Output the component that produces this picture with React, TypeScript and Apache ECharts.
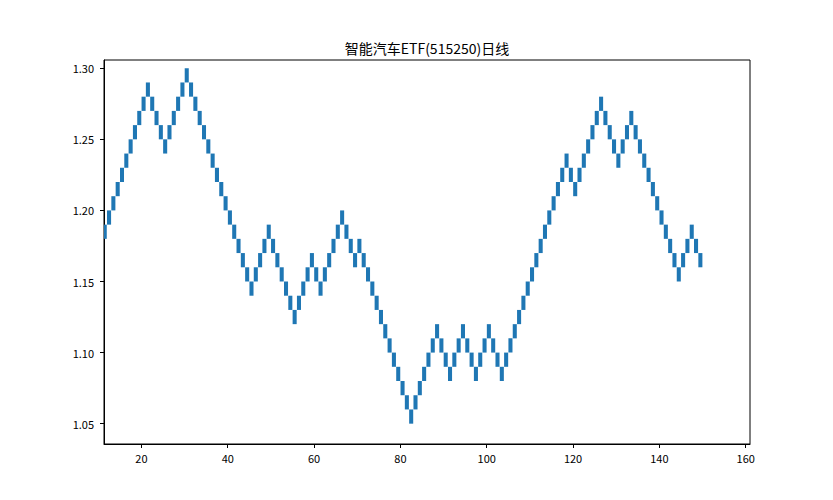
import React, { useEffect, useRef } from "react";
import * as echarts from "echarts";

const titleText = "智能汽车ETF(515250)日线";
const startIndex = 11;
const brickSize = 0.01;
const brickTops = [
  1.19, 1.2, 1.21, 1.22, 1.23, 1.24, 1.25, 1.26, 1.27, 1.28, 1.29,
  1.28, 1.27, 1.26, 1.25,
  1.26, 1.27, 1.28, 1.29, 1.3,
  1.29, 1.28, 1.27, 1.26, 1.25, 1.24, 1.23, 1.22, 1.21, 1.2, 1.19, 1.18, 1.17, 1.16, 1.15,
  1.16, 1.17, 1.18, 1.19,
  1.18, 1.17, 1.16, 1.15, 1.14, 1.13,
  1.14, 1.15, 1.16, 1.17,
  1.16, 1.15,
  1.16, 1.17, 1.18, 1.19, 1.2,
  1.19, 1.18, 1.17,
  1.18,
  1.17, 1.16, 1.15, 1.14, 1.13, 1.12, 1.11, 1.1, 1.09, 1.08, 1.07, 1.06,
  1.07, 1.08, 1.09, 1.1, 1.11, 1.12,
  1.11, 1.1, 1.09,
  1.1, 1.11, 1.12,
  1.11, 1.1, 1.09,
  1.1, 1.11, 1.12,
  1.11, 1.1, 1.09,
  1.1, 1.11, 1.12, 1.13, 1.14, 1.15, 1.16, 1.17, 1.18, 1.19, 1.2, 1.21, 1.22, 1.23, 1.24,
  1.23, 1.22,
  1.23, 1.24, 1.25, 1.26, 1.27, 1.28,
  1.27, 1.26, 1.25, 1.24,
  1.25, 1.26, 1.27,
  1.26, 1.25, 1.24, 1.23, 1.22, 1.21, 1.2, 1.19, 1.18, 1.17, 1.16,
  1.17, 1.18, 1.19,
  1.18, 1.17,
];
const xTicks = [20, 40, 60, 80, 100, 120, 140, 160];
const yTicks = [1.05, 1.1, 1.15, 1.2, 1.25, 1.3];

const FONT = '"Noto Sans CJK SC", "Noto Sans", sans-serif';

export default function App() {
  const ref = useRef<HTMLDivElement>(null);
  useEffect(() => {
    if (!ref.current) return;
    const chart = echarts.init(ref.current, null, { renderer: "svg" });
    const data = brickTops.map((top, i) => [startIndex + i, +(top - brickSize).toFixed(4), top]);
    const axisCommon = {
      axisLine: { show: true, lineStyle: { color: "#000", width: 1 } },
      splitLine: { show: false },
    };
    chart.setOption({
      animation: false,
      backgroundColor: "#fff",
      grid: {
        left: 104,
        top: 60,
        width: 646,
        height: 384,
        show: true,
        borderColor: "#000",
        borderWidth: 1,
        backgroundColor: "transparent",
      },
      graphic: [
        {
          type: "text",
          x: 427,
          y: 47.5,
          style: {
            text: titleText,
            fill: "#000",
            font: `14px ${FONT}`,
            textAlign: "center",
            textVerticalAlign: "middle",
          },
        },
      ],
      xAxis: {
        type: "value",
        min: 11.33,
        max: 161,
        ...axisCommon,
        axisTick: {
          show: true,
          length: 4,
          inside: false,
          customValues: xTicks,
          lineStyle: { color: "#000", width: 1 },
        },
        axisLabel: {
          customValues: xTicks,
          margin: 8,
          color: "#000",
          fontSize: 11,
          fontFamily: FONT,
        },
      },
      yAxis: {
        type: "value",
        min: 1.0357,
        max: 1.3058,
        ...axisCommon,
        axisTick: {
          show: true,
          length: 4,
          inside: false,
          customValues: yTicks,
          lineStyle: { color: "#000", width: 1 },
        },
        axisLabel: {
          customValues: yTicks,
          margin: 10,
          color: "#000",
          fontSize: 11,
          fontFamily: FONT,
          formatter: (v: number) => v.toFixed(2),
        },
      },
      series: [
        {
          type: "custom",
          name: "renko",
          data,
          encode: { x: 0, y: [1, 2] },
          renderItem: (params: any, api: any) => {
            const x = api.value(0);
            const lo = api.value(1);
            const hi = api.value(2);
            const p1 = api.coord([x + 0.03, hi]);
            const p2 = api.coord([x + 0.97, lo]);
            const cs = params.coordSys;
            const rect = echarts.graphic.clipRectByRect(
              { x: p1[0], y: p1[1], width: p2[0] - p1[0], height: p2[1] - p1[1] },
              { x: cs.x, y: cs.y, width: cs.width, height: cs.height }
            );
            if (!rect) return null;
            return {
              type: "rect",
              shape: rect,
              style: { fill: "#1f77b4" },
            };
          },
        },
      ],
    });
    return () => chart.dispose();
  }, []);
  return (
    <div
      ref={ref}
      style={{ position: "fixed", left: 0, top: 0, width: 833, height: 500, background: "#fff" }}
    />
  );
}
